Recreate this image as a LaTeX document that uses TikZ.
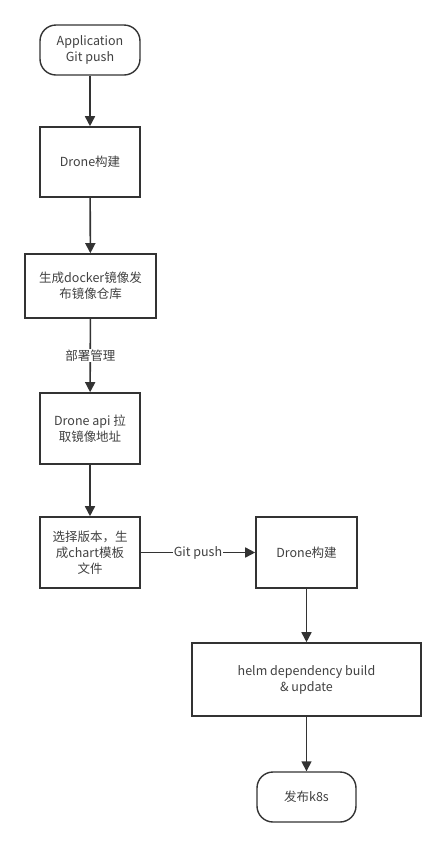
\documentclass[tikz,border=0pt]{standalone}
\usepackage{fontspec}
\setmainfont{Noto Sans CJK SC}
\usetikzlibrary{arrows.meta}
\begin{document}
\begin{tikzpicture}[
    x=1pt, y=-1pt,
    font=\fontsize{12.5}{16}\selectfont,
    every node/.style={text=black!75, align=center},
    box/.style={draw=black!80, line width=1.6pt, rectangle, inner sep=0pt},
    term/.style={draw=black!80, line width=1.4pt, rounded corners=16pt, inner sep=0pt,
        minimum width=100pt, minimum height=50pt},
    flow/.style={draw=black!80, line width=1.6pt, -{Triangle[length=10pt, width=10pt]}}]
    \useasboundingbox (0,0) rectangle (446,847);
    \node [term] (s) at (90,50) {Application\\Git push};
    \node [box, minimum width=100pt, minimum height=70pt] (a) at (90,162) {Drone构建};
    \node [box, minimum width=131pt, minimum height=64pt] (b) at (90.5,286) {生成docker镜像发\\布镜像仓库};
    \node [box, minimum width=100pt, minimum height=71pt] (c) at (90,428.5) {Drone api 拉\\取镜像地址};
    \node [box, minimum width=100pt, minimum height=71pt] (d) at (90,552.5) {选择版本，生\\成chart模板\\文件};
    \node [box, minimum width=101pt, minimum height=71pt] (e) at (306.5,552.5) {Drone构建};
    \node [box, minimum width=229pt, minimum height=73pt] (f) at (306.5,679.5) {helm dependency build\\\& update};
    \node [term, minimum width=99pt] (g) at (306.5,797) {发布k8s};
    \draw [flow] (s) -- (a);
    \draw [flow] (a) -- (b);
    \draw [flow] (b) -- node [fill=white, inner sep=1pt] {部署管理} (c);
    \draw [flow] (c) -- (d);
    \draw [flow] (d) -- node [fill=white, inner sep=1pt] {Git push} (e);
    \draw [flow] (e) -- (f);
    \draw [flow] (f) -- (g);
\end{tikzpicture}
\end{document}
